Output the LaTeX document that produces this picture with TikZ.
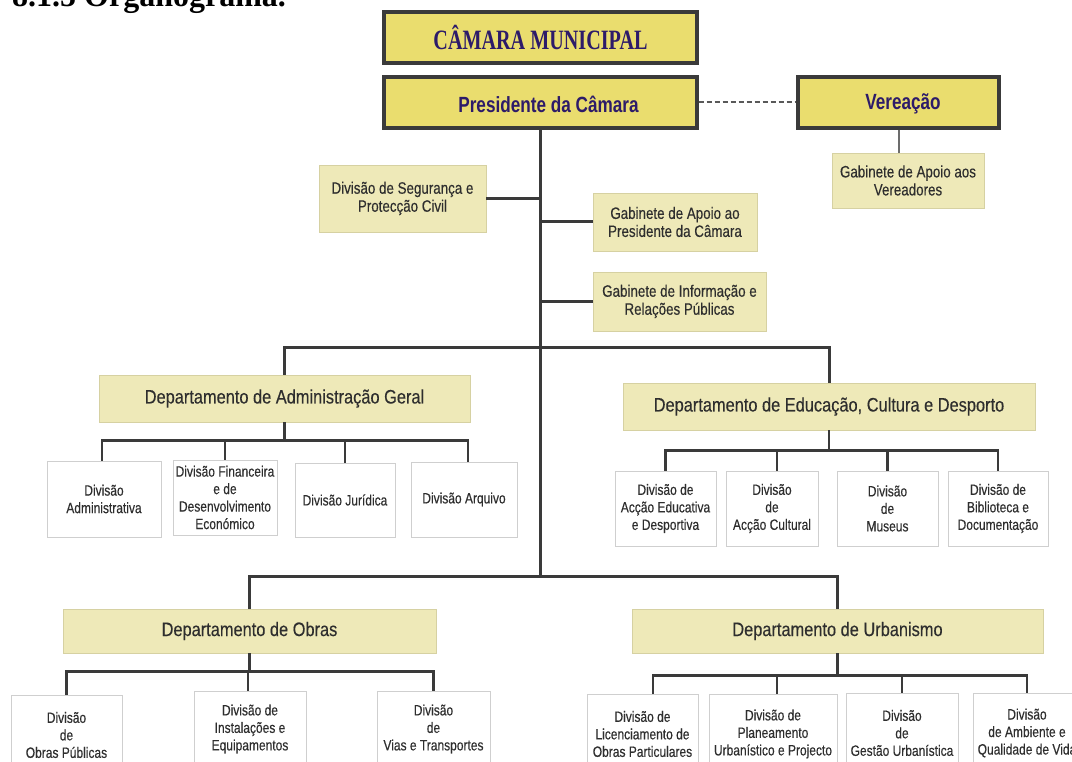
\documentclass[tikz,border=0pt]{standalone}
\usepackage{fontspec}
\setmainfont{Liberation Serif}
\newfontfamily\topserif[FakeStretch=0.72]{Liberation Serif}
\newfontfamily\presfont[FakeStretch=0.78]{Liberation Sans}
\newfontfamily\sidefont[FakeStretch=0.81,FakeBold=0.3]{Liberation Sans}
\newfontfamily\deptfont[FakeStretch=0.84,FakeBold=0.3]{Liberation Sans}
\newfontfamily\subfont[FakeStretch=0.80,FakeBold=0.3]{Liberation Sans}
\usetikzlibrary{calc}
\definecolor{yel}{HTML}{EADD6E}
\definecolor{khaki}{HTML}{EEE9B8}
\definecolor{khakiedge}{HTML}{D6D1A2}
\definecolor{navy}{HTML}{2D1B69}
\definecolor{ink}{HTML}{2E2E2E}
\definecolor{linec}{HTML}{3A3A3A}
\definecolor{subedge}{HTML}{CFCFCF}
\tikzset{
  topbox/.style={draw=linec, line width=3.2, fill=yel, inner sep=0, text=navy, align=center},
  khbox/.style={draw=khakiedge, line width=0.8, fill=khaki, inner sep=0, text=ink, align=center},
  sidetext/.style={font=\sidefont\fontsize{16.5}{18}\selectfont},
  depttext/.style={font=\deptfont\fontsize{19.5}{20}\selectfont},
  subbox/.style={draw=subedge, line width=1, fill=white, inner sep=0, text=ink, align=center,
     font=\subfont\fontsize{15}{17.5}\selectfont},
  conn/.style={draw=linec, line width=3},
  subconn/.style={draw=linec, line width=2.6},
}
\begin{document}
\begin{tikzpicture}[x=1pt,y=-1pt]
\useasboundingbox (0,0) rectangle (1072,762);
\clip (0,0) rectangle (1072,762);
\fill[white] (0,0) rectangle (1072,762);

% title
\node[anchor=base west, inner sep=0, font=\bfseries\fontsize{32}{32}\selectfont] (title) at (12,6.5) {8.1.5 Organograma.};

% top boxes
\node[topbox, minimum width=313, minimum height=51, font=\topserif\bfseries\fontsize{28}{28}\selectfont] (cm) at (540.5,37.5) {CÂMARA MUNICIPAL};
\node[topbox, minimum width=313, minimum height=51] (pres) at (540.5,102.5) {};
\node[anchor=center, inner sep=0, text=navy, font=\presfont\bfseries\fontsize{22}{22}\selectfont] (prest) at (548.5,104) {Presidente da Câmara};
\node[topbox, minimum width=201, minimum height=51] (ver) at (898.5,102.5) {};
\node[anchor=center, inner sep=0, text=navy, font=\presfont\bfseries\fontsize{22}{22}\selectfont] (vert) at (903,104) {Vereação};
\node[khbox, sidetext, minimum width=152, minimum height=55] (gav) at (908,180.5) {Gabinete de Apoio aos\\Vereadores};

% side boxes
\node[khbox, sidetext, minimum width=167, minimum height=67] (seg) at (402.5,198.5) {Divisão de Segurança e\\Protecção Civil};
\node[khbox, sidetext, minimum width=164, minimum height=58] (gap) at (675,222) {Gabinete de Apoio ao\\Presidente da Câmara};
\node[khbox, sidetext, minimum width=173, minimum height=59] (gir) at (679.5,301.5) {Gabinete de Informação e\\Relações Públicas};

% departments
\node[khbox, depttext, minimum width=371, minimum height=47] (dag) at (284.5,398.5) {Departamento de Administração Geral};
\node[khbox, depttext, minimum width=412, minimum height=47] (dec) at (829,406.5) {Departamento de Educação, Cultura e Desporto};
\node[khbox, depttext, minimum width=373, minimum height=44] (dob) at (249.5,631) {Departamento de Obras};
\node[khbox, depttext, minimum width=411, minimum height=44] (dur) at (837.5,631) {Departamento de Urbanismo};

% admin divisions
\node[subbox, minimum width=114, minimum height=76] (a1) at (104,499) {Divisão\\Administrativa};
\node[subbox, minimum width=104, minimum height=75] (a2) at (225,497.5) {Divisão Financeira\\e de\\Desenvolvimento\\Económico};
\node[subbox, minimum width=100, minimum height=74] (a3) at (345,500) {Divisão Jurídica};
\node[subbox, minimum width=106, minimum height=75] (a4) at (464,499.5) {Divisão Arquivo};

% education divisions
\node[subbox, minimum width=101, minimum height=75] (e1) at (665.5,508.5) {Divisão de\\Acção Educativa\\e Desportiva};
\node[subbox, minimum width=92, minimum height=75] (e2) at (772,508.5) {Divisão\\de\\Acção Cultural};
\node[subbox, minimum width=101, minimum height=75] (e3) at (887.5,508.5) {Divisão\\de\\Museus};
\node[subbox, minimum width=100, minimum height=75] (e4) at (998,508.5) {Divisão de\\Biblioteca e\\Documentação};

% works divisions
\node[subbox, minimum width=111, minimum height=80] (o1) at (66.5,735) {Divisão\\de\\Obras Públicas};
\node[subbox, minimum width=112, minimum height=76] (o2) at (250,729) {Divisão de\\Instalações e\\Equipamentos};
\node[subbox, minimum width=113, minimum height=76] (o3) at (433.5,729) {Divisão\\de\\Vias e Transportes};

% urbanism divisions
\node[subbox, minimum width=111, minimum height=80] (u1) at (642.5,734) {Divisão de\\Licenciamento de\\Obras Particulares};
\node[subbox, minimum width=128, minimum height=80] (u2) at (773,734) {Divisão de\\Planeamento\\Urbanístico e Projecto};
\node[subbox, minimum width=112, minimum height=80] (u3) at (902,733) {Divisão\\de\\Gestão Urbanística};
\node[subbox, minimum width=108, minimum height=80] (u4) at (1027,733) {Divisão\\de Ambiente e\\Qualidade de Vida};

% junctions
\coordinate (j1) at (540.5,348);
\coordinate (j2) at (540.5,576);

% connectors
\draw[draw=gray!70!black, line width=2, dash pattern=on 5pt off 3pt] (pres.east) -- (ver.west);
\draw[draw=gray!85!black, line width=2] (ver.south) -- (ver.south |- gav.north);
\draw[conn] (pres.south) -- (j2);
\draw[conn] (seg.east) -- (seg.east -| j1);
\draw[conn] (gap.west) -- (gap.west -| j1);
\draw[conn] (gir.west) -- (gir.west -| j1);
\draw[conn] (j1) -| (dag.north);
\draw[conn] (j1) -| (dec.north);
\draw[conn] (j2) -| (dob.north);
\draw[conn] (j2) -| (dur.north);

\draw[subconn] (dag.south) -- ++(0,18) -| ([xshift=-2]a1.north);
\draw[subconn] (dag.south) -- ++(0,18) -| (a2.north);
\draw[subconn] (dag.south) -- ++(0,18) -| (a3.north);
\draw[subconn] (dag.south) -- ++(0,18) -| ([xshift=4]a4.north);

\draw[subconn] (dec.south) -- ++(0,20) -| (e1.north);
\draw[subconn] (dec.south) -- ++(0,20) -| ([xshift=5]e2.north);
\draw[subconn] (dec.south) -- ++(0,20) -| (e3.north);
\draw[subconn] (dec.south) -- ++(0,20) -| (e4.north);

\draw[subconn] (dob.south) -- ++(0,18) -| (o1.north);
\draw[subconn] (dob.south) -- ++(0,18) -| ([xshift=-2]o2.north);
\draw[subconn] (dob.south) -- ++(0,18) -| (o3.north);

\draw[subconn] (dur.south) -- ++(0,22) -| ([xshift=10.5]u1.north);
\draw[subconn] (dur.south) -- ++(0,22) -| ([xshift=4]u2.north);
\draw[subconn] (dur.south) -- ++(0,22) -| (u3.north);
\draw[subconn] (dur.south) -- ++(0,22) -| (u4.north);
\end{tikzpicture}
\end{document}
